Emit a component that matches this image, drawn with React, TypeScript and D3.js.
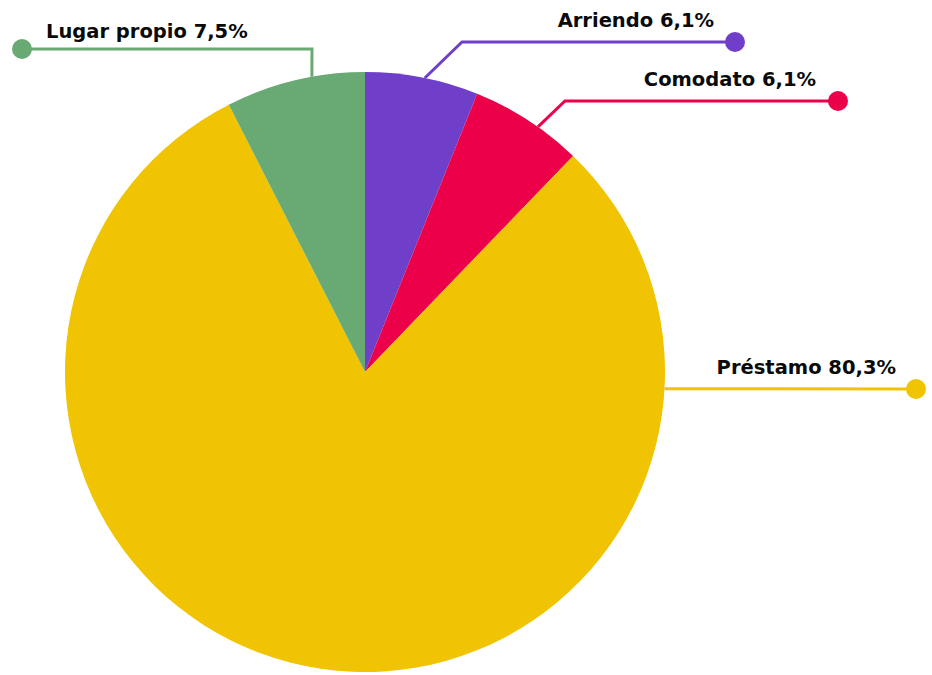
import React from "react";
import * as d3 from "d3";

const categories = ["Arriendo", "Comodato", "Préstamo", "Lugar propio"];
const values = [6.1, 6.1, 80.3, 7.5];
const valueLabels = ["6,1%", "6,1%", "80,3%", "7,5%"];
const colors = ["#6f3fc9", "#ec0049", "#f0c402", "#69a974"];

// layout of leader lines/labels (positions only)
const layout = [
  { anchorDeg: 11.5, elbow: [462, 42], end: [735, 42], text: [714, 27], anchor: "end" },
  { anchorDeg: 35.2, elbow: [565, 101], end: [838, 101], text: [816, 86], anchor: "end" },
  { anchorDeg: 93.2, elbow: null, end: [916, 389], text: [896, 374], anchor: "end" },
  { anchorDeg: 349.8, elbow: [312, 49], end: [22, 49], text: [46, 38], anchor: "start" },
];

const W = 932;
const H = 675;
const cx = 365;
const cy = 372;
const R = 300;

export default function App() {
  const pie = d3.pie<number>().sort(null).startAngle(0).endAngle(2 * Math.PI);
  const arcs = pie(values);
  const arc = d3.arc<d3.PieArcDatum<number>>().innerRadius(0).outerRadius(R);

  return (
    <div style={{ position: "absolute", left: 0, top: 0 }}>
      <svg width={W} height={H} viewBox={`0 0 ${W} ${H}`} style={{ display: "block", background: "#fff" }}>
        <g transform={`translate(${cx},${cy})`}>
          {arcs.map((a, i) => (
            <path key={i} d={arc(a) || ""} fill={colors[i]} />
          ))}
        </g>
        {layout.map((l, i) => {
          const ang = (l.anchorDeg * Math.PI) / 180;
          const sx = cx + R * Math.sin(ang);
          const sy = cy - R * Math.cos(ang);
          const pts: [number, number][] = [[sx, sy]];
          if (l.elbow) pts.push(l.elbow as [number, number]);
          pts.push(l.end as [number, number]);
          const line = d3.line()(pts) || "";
          return (
            <g key={i}>
              <path d={line} fill="none" stroke={colors[i]} strokeWidth={3} />
              <circle cx={l.end[0]} cy={l.end[1]} r={10} fill={colors[i]} />
              <text
                x={l.text[0]}
                y={l.text[1]}
                textAnchor={l.anchor as any}
                fontFamily="'DejaVu Sans', sans-serif"
                fontWeight="bold"
                fontSize={19.5}
                fill="#0a0a0a"
              >
                {categories[i]} {valueLabels[i]}
              </text>
            </g>
          );
        })}
      </svg>
    </div>
  );
}
